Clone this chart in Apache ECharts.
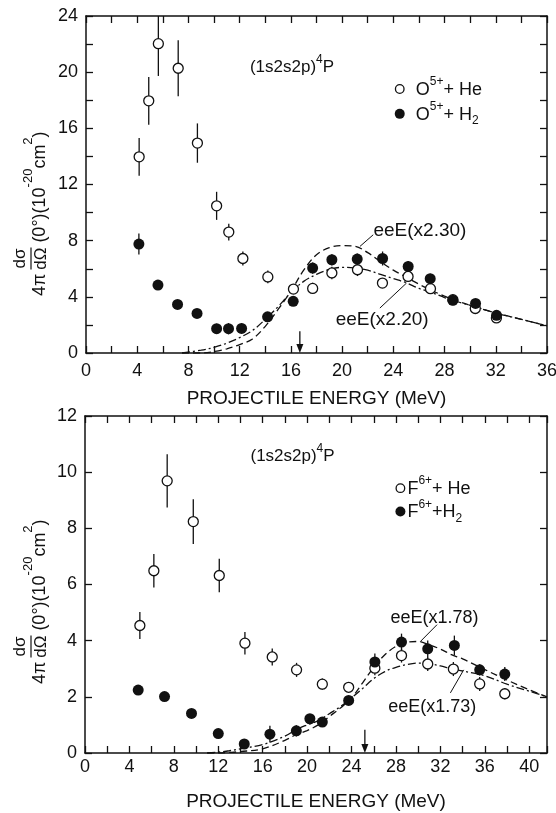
<!DOCTYPE html>
<html>
<head>
<meta charset="utf-8">
<title>(1s2s2p)4P zero-degree cross sections</title>
<script src="https://cdn.jsdelivr.net/npm/echarts@6/dist/echarts.min.js"></script>
<style>
	html,body{margin:0;padding:0;background:#fff;}
	#main{width:556px;height:813px;}
</style>
</head>
<body>
<div id="main"></div>
<script>
// ---- upper panel: O5+ on He / H2 ----
var oHeE   = [4.15, 4.9, 5.65, 7.2, 8.7, 10.2, 11.15, 12.25, 14.2, 16.2, 17.7, 19.2, 21.2, 23.15, 25.15, 26.9, 28.65, 30.4, 32.05];
var oHeV   = [13.97, 17.96, 22.03, 20.28, 14.95, 10.48, 8.61, 6.73, 5.42, 4.55, 4.6, 5.7, 5.93, 4.98, 5.45, 4.58, 3.8, 3.17, 2.5];
var oHeErr = [1.35, 1.7, 2.3, 2.0, 1.4, 1.0, 0.6, 0.5, 0.45, 0.35, 0.4, 0.45, 0.45, 0.35, 0.4, 0.35, 0.3, 0.3, 0.25];
var oH2E   = [4.13, 5.62, 7.15, 8.67, 10.2, 11.13, 12.15, 14.18, 16.18, 17.7, 19.2, 21.18, 23.16, 25.16, 26.88, 28.65, 30.42, 32.06];
var oH2V   = [7.76, 4.84, 3.46, 2.82, 1.73, 1.73, 1.75, 2.58, 3.68, 6.05, 6.64, 6.69, 6.73, 6.16, 5.29, 3.75, 3.53, 2.68];
var oH2Err = [0.75, 0.35, 0.3, 0.3, 0.35, 0.4, 0.35, 0.3, 0.3, 0.4, 0.4, 0.4, 0.5, 0.4, 0.35, 0.3, 0.3, 0.25];
var oFitE   = [7.5, 9, 10, 11, 12, 13, 14, 15, 16, 17, 18, 19, 20, 21, 22, 23, 24, 25, 26, 27, 28, 29, 30, 32, 34, 36];
var oFit230 = [0, 0, 0.1, 0.3, 0.6, 1.0, 1.9, 3.1, 4.4, 5.9, 7.0, 7.5, 7.65, 7.6, 7.15, 6.5, 5.9, 5.4, 4.9, 4.45, 4.05, 3.7, 3.4, 2.85, 2.4, 1.94];
var oFit220 = [0, 0.2, 0.4, 0.7, 1.1, 1.6, 2.4, 3.3, 4.3, 5.1, 5.6, 5.95, 6.1, 6.05, 5.9, 5.6, 5.3, 5.0, 4.6, 4.3, 3.95, 3.65, 3.4, 2.85, 2.4, 1.94];

// ---- lower panel: F6+ on He / H2 ----
var fHeE   = [4.94, 6.2, 7.4, 9.75, 12.09, 14.4, 16.86, 19.05, 21.37, 23.74, 26.1, 28.5, 30.86, 33.17, 35.54, 37.8];
var fHeV   = [4.54, 6.49, 9.69, 8.24, 6.32, 3.91, 3.42, 2.96, 2.45, 2.34, 3.02, 3.47, 3.17, 2.99, 2.46, 2.11];
var fHeErr = [0.48, 0.6, 0.95, 0.8, 0.6, 0.4, 0.3, 0.25, 0.2, 0.15, 0.25, 0.25, 0.25, 0.25, 0.25, 0.2];
var fH2E   = [4.79, 7.16, 9.59, 12.0, 14.34, 16.65, 19.03, 20.25, 21.37, 23.74, 26.1, 28.5, 30.86, 33.26, 35.54, 37.8];
var fH2V   = [2.24, 2.01, 1.41, 0.69, 0.32, 0.67, 0.79, 1.22, 1.10, 1.87, 3.24, 3.95, 3.71, 3.83, 2.96, 2.81];
var fH2Err = [0.12, 0.1, 0.1, 0.1, 0.1, 0.3, 0.2, 0.15, 0.15, 0.15, 0.3, 0.3, 0.3, 0.35, 0.2, 0.25];
var fFitE   = [11, 12, 13, 14, 16, 18, 19, 20, 21, 22, 23, 24, 25, 26, 27, 28, 29, 30, 31, 32, 33, 34, 36, 38, 40, 41.6];
var fFit178 = [0, 0, 0.02, 0.05, 0.15, 0.45, 0.65, 0.8, 1.0, 1.3, 1.6, 1.96, 2.5, 3.05, 3.5, 3.8, 3.95, 3.97, 3.85, 3.7, 3.5, 3.35, 2.97, 2.6, 2.25, 2.0];
var fFit173 = [0, 0.03, 0.08, 0.15, 0.3, 0.6, 0.83, 1.0, 1.15, 1.4, 1.65, 1.96, 2.3, 2.65, 2.9, 3.05, 3.15, 3.2, 3.18, 3.1, 3.0, 2.92, 2.75, 2.45, 2.2, 2.0];

var FONT = '"Liberation Sans", Arial, sans-serif';
var INK = '#111';
var chart = echarts.init(document.getElementById('main'));

function pairs(xs, ys) {
	return xs.map(function (x, i) { return [x, ys[i]]; });
}

function xAx(grid, max, pos, labels, gap, nameGap) {
	return {
		type: 'value', gridIndex: grid, position: pos, min: 0, max: max, interval: 2,
		axisLine: {onZero: false, lineStyle: {color: INK, width: 1.5}},
		axisTick: {inside: true, length: 7, lineStyle: {color: INK, width: 1.3}},
		axisLabel: {show: labels, margin: gap, fontSize: 18, color: INK, fontFamily: FONT,
			formatter: function (v) { return v % 4 === 0 ? String(v) : ''; }},
		splitLine: {show: false},
		name: labels ? 'PROJECTILE ENERGY (MeV)' : '',
		nameLocation: 'middle', nameGap: nameGap,
		nameTextStyle: {fontSize: 19, color: INK, fontFamily: FONT, verticalAlign: 'top'}
	};
}

function yAx(grid, max, pos, labels, every) {
	return {
		type: 'value', gridIndex: grid, position: pos, min: 0, max: max, interval: 2,
		axisLine: {onZero: false, lineStyle: {color: INK, width: 1.5}},
		axisTick: {inside: true, length: 7, lineStyle: {color: INK, width: 1.3}},
		axisLabel: {show: labels, margin: 8, fontSize: 18, color: INK, fontFamily: FONT,
			formatter: function (v) { return v % every === 0 ? String(v) : ''; }},
		splitLine: {show: false}
	};
}

// vertical error bars
function errBars(ax, E, V, Err) {
	return {
		type: 'custom', xAxisIndex: ax, yAxisIndex: ax, z: 2, clip: true,
		data: E.map(function (e, i) { return [e, V[i] - Err[i], V[i] + Err[i]]; }),
		encode: {x: 0, y: [1, 2]},
		renderItem: function (params, api) {
			var lo = api.coord([api.value(0), api.value(1)]);
			var hi = api.coord([api.value(0), api.value(2)]);
			return {type: 'line', shape: {x1: lo[0], y1: lo[1], x2: hi[0], y2: hi[1]},
				style: {stroke: INK, lineWidth: 1.3}};
		}
	};
}

function dots(ax, E, V, open) {
	return {
		type: 'scatter', xAxisIndex: ax, yAxisIndex: ax, z: 4,
		symbol: 'circle', symbolSize: open ? 10 : 11,
		itemStyle: open ? {color: '#fff', borderColor: INK, borderWidth: 1.3, opacity: 1}
			: {color: INK, opacity: 1},
		data: pairs(E, V)
	};
}

function fit(ax, E, V, dash) {
	return {
		type: 'line', xAxisIndex: ax, yAxisIndex: ax, z: 3,
		smooth: 0.35, showSymbol: false, symbol: 'none',
		lineStyle: {color: INK, width: 1.3, type: dash},
		data: pairs(E, V)
	};
}

var DASH = [7, 4];
var DASHDOT = [8, 3, 2, 3];

chart.setOption({
	animation: false,
	backgroundColor: '#fff',
	grid: [
		{left: 86, top: 16, width: 461, height: 337, outerBoundsMode: 'none'},
		{left: 85, top: 416, width: 462, height: 337, outerBoundsMode: 'none'}
	],
	xAxis: [
		xAx(0, 36, 'bottom', true, 9, 36),
		xAx(0, 36, 'top', false, 0, 0),
		xAx(1, 41.6, 'bottom', true, 5, 39),
		xAx(1, 41.6, 'top', false, 0, 0)
	],
	yAxis: [
		yAx(0, 24, 'left', true, 4),
		yAx(0, 24, 'right', false, 4),
		yAx(1, 12, 'left', true, 2),
		yAx(1, 12, 'right', false, 2)
	],
	series: [
		fit(0, oFitE, oFit230, DASH),
		fit(0, oFitE, oFit220, DASHDOT),
		errBars(0, oHeE, oHeV, oHeErr),
		errBars(0, oH2E, oH2V, oH2Err),
		dots(0, oHeE, oHeV, true),
		dots(0, oH2E, oH2V, false),
		fit(2, fFitE, fFit178, DASH),
		fit(2, fFitE, fFit173, DASHDOT),
		errBars(2, fHeE, fHeV, fHeErr),
		errBars(2, fH2E, fH2V, fH2Err),
		dots(2, fHeE, fHeV, true),
		dots(2, fH2E, fH2V, false)
	]
});

// ---- annotations, placed in data space ----
var ctx = document.createElement('canvas').getContext('2d');
function tw(t, size) {
	ctx.font = size + 'px ' + FONT;
	return ctx.measureText(t).width;
}
function txt(t, size, x, y, align) {
	return {type: 'text', x: x, y: y, z: 10,
		style: {text: t, fontSize: size, fontFamily: FONT, fill: INK,
			align: align || 'left', verticalAlign: 'middle',
			textAlign: align || 'left', textVerticalAlign: 'middle'}};
}
// lay a string of pieces left to right; dy shifts super/subscripts
function run(pieces, x, y) {
	var out = [];
	pieces.forEach(function (p) {
		out.push(txt(p.t, p.s, x, y + (p.dy || 0)));
		x += tw(p.t, p.s) + (p.gap || 0);
	});
	return out;
}
function seg(a, b, w) {
	return {type: 'line', z: 10, shape: {x1: a[0], y1: a[1], x2: b[0], y2: b[1]},
		style: {stroke: INK, lineWidth: w || 1}};
}
function arrow(ax, e, top) {
	var a = chart.convertToPixel({xAxisIndex: ax, yAxisIndex: ax}, [e, top]);
	var b = chart.convertToPixel({xAxisIndex: ax, yAxisIndex: ax}, [e, 0]);
	return [seg(a, [b[0], b[1] - 4], 1.3),
		{type: 'polygon', z: 10, shape: {points: [[b[0] - 3.5, b[1] - 9], [b[0] + 3.5, b[1] - 9], [b[0], b[1]]]},
			style: {fill: INK}}];
}
function ylabel(cx, cy) {
	var kids = [];
	var x = 0;
	kids = kids.concat(run([{t: '4\u03c0', s: 18}], x, 0));
	x += tw('4\u03c0', 18) + 5;
	var fw = tw('d\u03c3', 17);
	kids.push(txt('d\u03c3', 17, x + fw / 2, -20, 'center'));
	kids.push(txt('d\u03a9', 17, x + fw / 2, 1, 'center'));
	kids.push(seg([x - 1, -9], [x + fw + 1, -9], 1.2));
	x += fw + 6;
	kids = kids.concat(run([
		{t: '(0\u00b0)(10', s: 18},
		{t: '-20', s: 13, dy: -12},
		{t: 'cm', s: 18},
		{t: '2', s: 13, dy: -12},
		{t: ')', s: 18}
	], x, 0));
	return {type: 'group', x: cx, y: cy, rotation: Math.PI / 2, children: kids};
}

function annotate() {
	var g = [];
	var P0 = function (p) { return chart.convertToPixel({xAxisIndex: 0, yAxisIndex: 0}, p); };
	var P2 = function (p) { return chart.convertToPixel({xAxisIndex: 2, yAxisIndex: 2}, p); };

	// upper panel
	var p = P0([12.8, 20.38]);
	g = g.concat(run([{t: '(1s2s2p)', s: 17}, {t: '4', s: 12, dy: -7}, {t: 'P', s: 17}], p[0], p[1]));
	p = P0([24.5, 18.8]);
	g.push({type: 'circle', z: 10, shape: {cx: p[0], cy: p[1], r: 4.3}, style: {fill: '#fff', stroke: INK, lineWidth: 1.3}});
	g = g.concat(run([{t: 'O', s: 18}, {t: '5+', s: 12, dy: -8}, {t: '+ He', s: 18}], p[0] + 16, p[1] + 1));
	p = P0([24.5, 17.03]);
	g.push({type: 'circle', z: 10, shape: {cx: p[0], cy: p[1], r: 5}, style: {fill: INK}});
	g = g.concat(run([{t: 'O', s: 18}, {t: '5+', s: 12, dy: -8}, {t: '+ H', s: 18}, {t: '2', s: 12, dy: 6}], p[0] + 16, p[1] + 1));
	p = P0([22.45, 8.7]);
	g.push(txt('eeE(x2.30)', 19, p[0], p[1]));
	g.push(seg(P0([22.43, 8.42]), P0([21.39, 7.59])));
	p = P0([19.5, 2.37]);
	g.push(txt('eeE(x2.20)', 19, p[0], p[1]));
	g.push(seg(P0([22.95, 3.2]), P0([25.03, 4.98])));
	g = g.concat(arrow(0, 16.7, 1.55));
	g.push(ylabel(40, 296));

	// lower panel
	p = P2([14.9, 10.58]);
	g = g.concat(run([{t: '(1s2s2p)', s: 17}, {t: '4', s: 12, dy: -7}, {t: 'P', s: 17}], p[0], p[1]));
	p = P2([28.4, 9.43]);
	g.push({type: 'circle', z: 10, shape: {cx: p[0], cy: p[1], r: 4.3}, style: {fill: '#fff', stroke: INK, lineWidth: 1.3}});
	g = g.concat(run([{t: 'F', s: 18}, {t: '6+', s: 12, dy: -8}, {t: '+ He', s: 18}], p[0] + 7, p[1] + 1));
	p = P2([28.4, 8.6]);
	g.push({type: 'circle', z: 10, shape: {cx: p[0], cy: p[1], r: 5}, style: {fill: INK}});
	g = g.concat(run([{t: 'F', s: 18}, {t: '6+', s: 12, dy: -8}, {t: '+H', s: 18}, {t: '2', s: 12, dy: 6}], p[0] + 7, p[1] + 1));
	p = P2([27.5, 4.81]);
	g.push(txt('eeE(x1.78)', 18, p[0], p[1]));
	g.push(seg(P2([31.7, 4.57]), P2([30.2, 3.97])));
	p = P2([27.3, 1.65]);
	g.push(txt('eeE(x1.73)', 18, p[0], p[1]));
	g.push(seg(P2([32.9, 2.14]), P2([34.1, 2.96])));
	g = g.concat(arrow(2, 25.2, 0.83));
	g.push(ylabel(40, 684));

	chart.setOption({graphic: {elements: g}});
}
annotate();
</script>
</body>
</html>
